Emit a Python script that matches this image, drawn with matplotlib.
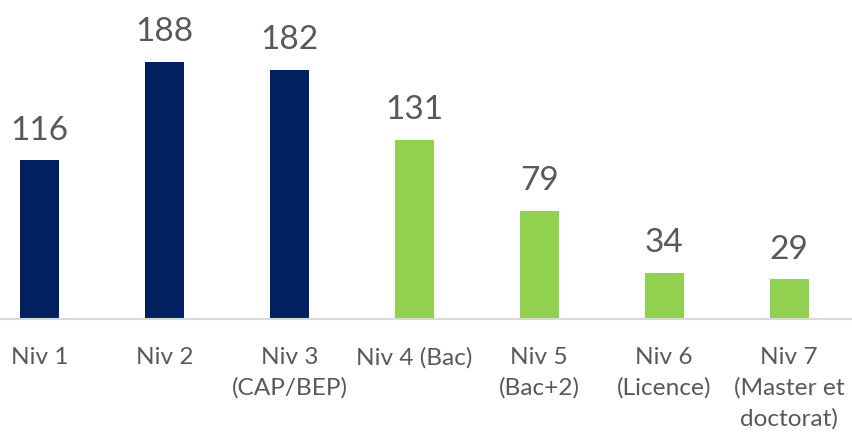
import matplotlib
matplotlib.use("Agg")
import matplotlib.pyplot as plt
from matplotlib.transforms import blended_transform_factory, offset_copy

categories = ["Niv 1", "Niv 2", "Niv 3\n(CAP/BEP)", "Niv 4 (Bac)", "Niv 5\n(Bac+2)",
              "Niv 6\n(Licence)", "Niv 7\n(Master et\ndoctorat)"]
values = [116, 188, 182, 131, 79, 34, 29]
colors = ["#002060", "#002060", "#002060", "#92D050", "#92D050", "#92D050", "#92D050"]

plt.rcParams['font.family'] = ['Lato', 'DejaVu Sans']
text_color = "#595959"

fig = plt.figure(figsize=(8.53, 4.37), dpi=100)
ax = fig.add_axes([0, 118 / 437, 1, 1 - 118 / 437])
x = list(range(len(values)))
ax.bar(x, values, width=0.312, color=colors)
ax.set_xlim(-0.318, 6.512)
ax.set_ylim(0, 233.4)
for s in ["top", "left", "right"]:
    ax.spines[s].set_visible(False)
ax.spines["bottom"].set_color("#D9D9D9")
ax.spines["bottom"].set_linewidth(1.5)
ax.set_yticks([])
ax.set_xticks([])

for xi, v in zip(x, values):
    ax.annotate(str(v), (xi, v), xytext=(0, 15), textcoords="offset points",
                ha="center", va="baseline", fontsize=24, color=text_color)

trans = blended_transform_factory(ax.transData, ax.transAxes)
for xi, lab in zip(x, categories):
    ax.text(xi, 0, lab, transform=offset_copy(trans, fig=fig, x=0, y=-20, units="points"),
            ha="center", va="top", fontsize=17.6, color=text_color, linespacing=1.55)

fig.savefig("out.png", dpi=100)
